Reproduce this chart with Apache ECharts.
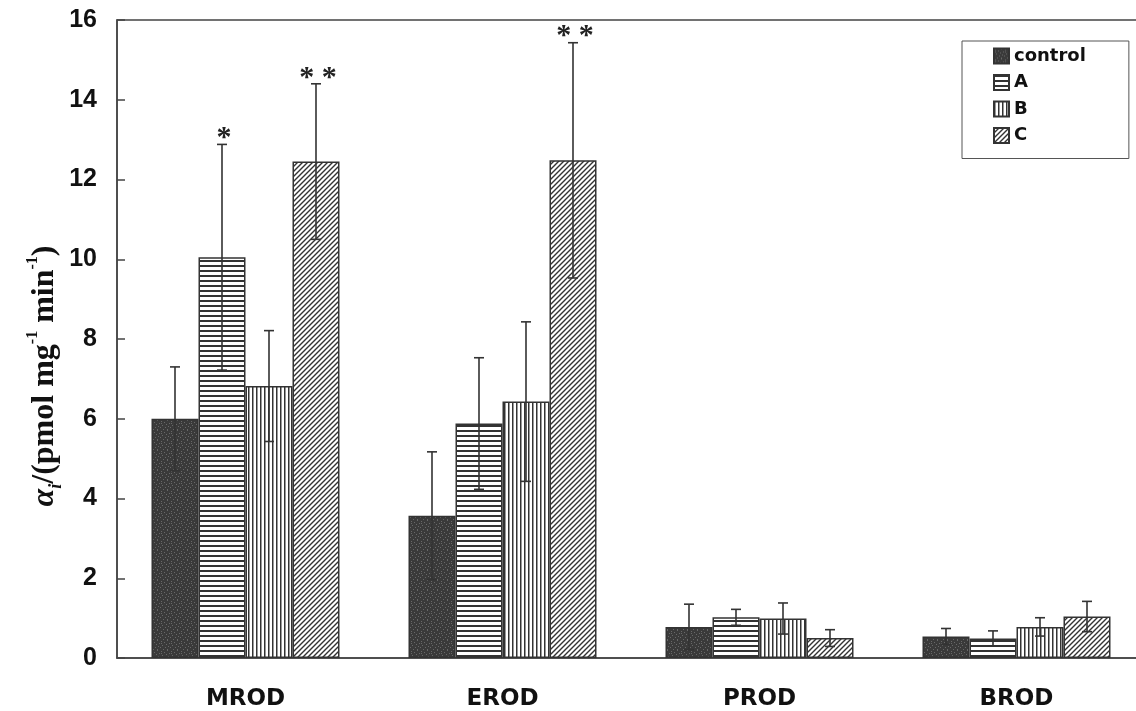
<!DOCTYPE html>
<html>
<head>
<meta charset="utf-8">
<script src="https://cdn.jsdelivr.net/npm/echarts@6/dist/echarts.min.js"></script>
<style>html,body{margin:0;padding:0;background:#fff;overflow:hidden}#c{width:1145px;height:711px}</style>
</head>
<body>
<div id="c"></div>
<script>
// ---- data ----
const categories = ['MROD', 'EROD', 'PROD', 'BROD'];
const seriesNames = ['control', 'A', 'B', 'C'];
const controlVals = [6.0, 3.57, 0.78, 0.54];
const controlErr  = [1.3, 1.6, 0.57, 0.2];
const aVals = [10.05, 5.88, 1.02, 0.49];
const aErr  = [2.83, 1.65, 0.2, 0.19];
const bVals = [6.82, 6.43, 0.99, 0.78];
const bErr  = [1.39, 2.0, 0.39, 0.23];
const cVals = [12.45, 12.48, 0.5, 1.04];
const cErr  = [1.95, 2.95, 0.21, 0.38];
const controlMarks = ['', '', '', ''];
const aMarks = ['*', '', '', ''];
const bMarks = ['', '', '', ''];
const cMarks = ['* *', '* *', '', ''];
const yTicks = [0, 2, 4, 6, 8, 10, 12, 14, 16];

const allVals = [controlVals, aVals, bVals, cVals];
const allErr = [controlErr, aErr, bErr, cErr];
const allMarks = [controlMarks, aMarks, bMarks, cMarks];

// ---- patterns ----
function tile(w, h, draw) {
  const c = document.createElement('canvas');
  c.width = w; c.height = h;
  draw(c.getContext('2d'));
  return { image: c, repeat: 'repeat' };
}
const speckPts = [[1,1],[4,2],[7,0],[2,5],[6,4],[0,7],[5,7],[8,6],[3,9],[9,3],[7,9],[1,3]];
const patControl = tile(10, 10, ctx => {
  ctx.fillStyle = '#3a3a3a'; ctx.fillRect(0, 0, 10, 10);
  ctx.fillStyle = '#686868';
  speckPts.forEach(p => ctx.fillRect(p[0], p[1], 1, 1));
});
const patA = tile(5, 5, ctx => {
  ctx.fillStyle = '#ffffff'; ctx.fillRect(0, 0, 5, 5);
  ctx.fillStyle = '#333333'; ctx.fillRect(0, 0, 5, 2);
});
const patB = tile(4, 4, ctx => {
  ctx.fillStyle = '#ffffff'; ctx.fillRect(0, 0, 4, 4);
  ctx.fillStyle = '#333333'; ctx.fillRect(0, 0, 1.5, 4);
});
const patC = tile(5, 5, ctx => {
  ctx.fillStyle = '#ffffff'; ctx.fillRect(0, 0, 5, 5);
  ctx.strokeStyle = '#333333'; ctx.lineWidth = 1.4;
  ctx.beginPath();
  ctx.moveTo(-1, 6); ctx.lineTo(6, -1);
  ctx.moveTo(-1, 1); ctx.lineTo(1, -1);
  ctx.moveTo(4, 6); ctx.lineTo(6, 4);
  ctx.stroke();
});
const patterns = [patControl, patA, patB, patC];

const BAR_W = 47;
const AX = '#444';
const SANS = "'Liberation Sans', Arial, sans-serif";
const WIDE = "'DejaVu Sans', sans-serif";
const SERIF = "'Liberation Serif', 'Times New Roman', serif";

const barSeries = seriesNames.map((n, i) => ({
  name: n,
  type: 'bar',
  data: allVals[i],
  barWidth: BAR_W,
  barGap: '0%',
  itemStyle: { color: patterns[i], borderColor: '#333', borderWidth: 1.5 },
  z: 2
}));

const errSeries = seriesNames.map((n, i) => ({
  name: n + '-err',
  type: 'custom',
  z: 5,
  data: allVals[i].map((v, k) => [k, v - allErr[i][k], v + allErr[i][k]]),
  renderItem: function (params, api) {
    const cat = api.value(0);
    const x = api.coord([cat, 0])[0] + (i - 1.5) * BAR_W;
    const yl = api.coord([cat, api.value(1)])[1];
    const yh = api.coord([cat, api.value(2)])[1];
    const st = { stroke: '#333', lineWidth: 1.6 };
    const ch = [
      { type: 'line', shape: { x1: x, y1: yl, x2: x, y2: yh }, style: st },
      { type: 'line', shape: { x1: x - 5, y1: yh, x2: x + 5, y2: yh }, style: st },
      { type: 'line', shape: { x1: x - 5, y1: yl, x2: x + 5, y2: yl }, style: st }
    ];
    const m = allMarks[i][params.dataIndex];
    if (m) {
      ch.push({ type: 'text', style: { text: m, x: x + 2, y: yh - 6, align: 'center', verticalAlign: 'middle',
        font: 'bold 30px ' + SERIF, fill: '#222' } });
    }
    return { type: 'group', children: ch };
  }
}));

const titleRich = {
  a: { fontFamily: SERIF, fontStyle: 'italic', fontWeight: 'bold', fontSize: 32, fill: '#111', lineHeight: 40 },
  i: { fontFamily: SERIF, fontStyle: 'italic', fontWeight: 'bold', fontSize: 18, fill: '#111', lineHeight: 18, verticalAlign: 'bottom' },
  t: { fontFamily: SERIF, fontWeight: 'bold', fontSize: 32, fill: '#111', lineHeight: 40 },
  s: { fontFamily: SERIF, fontWeight: 'bold', fontSize: 16, fill: '#111', lineHeight: 16, verticalAlign: 'top' }
};

const chart = echarts.init(document.getElementById('c'));
chart.setOption({
  backgroundColor: '#ffffff',
  animation: false,
  grid: { left: 117, right: 0, top: 20, bottom: 52, show: true, borderColor: AX, borderWidth: 1.5, backgroundColor: 'transparent' },
  legend: {
    data: seriesNames,
    orient: 'vertical',
    left: 962, top: 41,
    itemWidth: 15, itemHeight: 15, itemGap: 8.5,
    padding: [6, 43, 14, 31],
    borderColor: '#555', borderWidth: 1,
    icon: 'rect',
    textStyle: { fontFamily: WIDE, fontWeight: 'bold', fontSize: 18, color: '#111' }
  },
  graphic: [{
    type: 'text',
    x: 45, y: 376,
    rotation: Math.PI / 2,
    style: {
      text: '{a|α}{i|i}{t|/(pmol mg}{s|-1}{t| min}{s|-1}{t|)}',
      rich: titleRich,
      align: 'center',
      verticalAlign: 'middle'
    }
  }],
  xAxis: {
    type: 'category',
    data: categories,
    axisTick: { show: false },
    axisLine: { lineStyle: { color: AX, width: 1.5 } },
    axisLabel: { fontFamily: WIDE, fontWeight: 'bold', fontSize: 23, color: '#111', margin: 30 }
  },
  yAxis: {
    type: 'value',
    min: yTicks[0], max: yTicks[yTicks.length - 1], interval: 2,
    axisLine: { show: true, lineStyle: { color: AX, width: 1.5 } },
    axisTick: { show: true, inside: true, length: 8, lineStyle: { color: AX, width: 1.5 } },
    splitLine: { show: false },
    axisLabel: { fontFamily: SANS, fontWeight: 'bold', fontSize: 25, color: '#111', margin: 20 }
  },
  series: barSeries.concat(errSeries)
});
</script>
</body>
</html>
